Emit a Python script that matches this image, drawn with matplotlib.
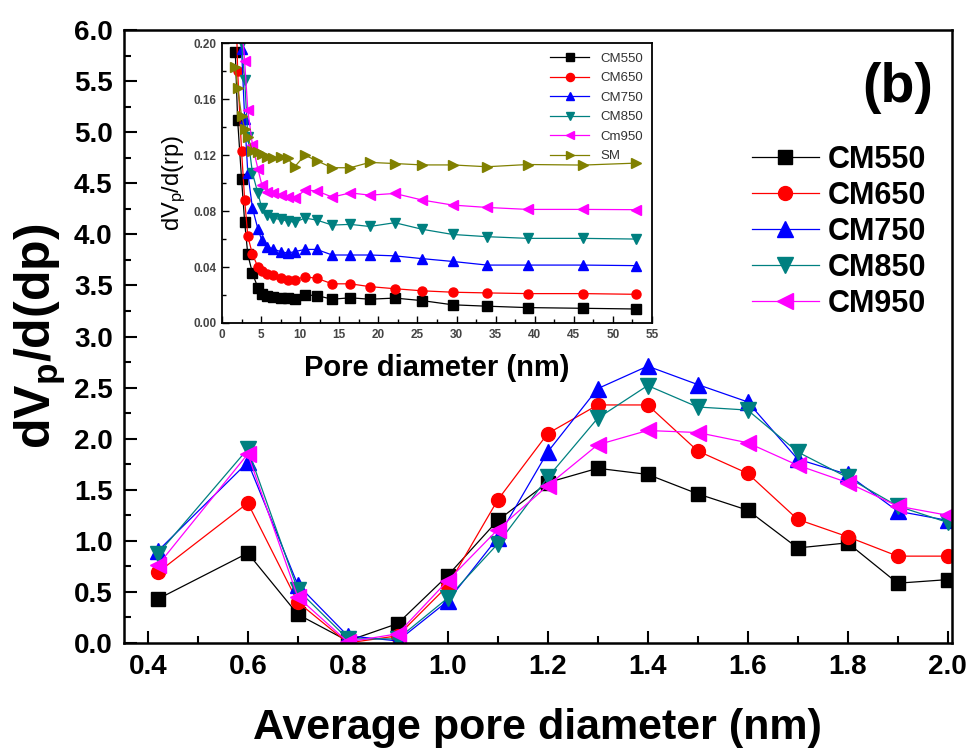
import matplotlib
matplotlib.use("Agg")
import matplotlib.pyplot as plt
from matplotlib.ticker import MultipleLocator, FormatStrFormatter

plt.rcParams["font.family"] = ["Liberation Sans", "DejaVu Sans"]
plt.rcParams["mathtext.default"] = "regular"

# ── main panel: micropore distribution ──────────────────────────────
pore_d = [0.42, 0.6, 0.7, 0.8, 0.9, 1.0, 1.1, 1.2, 1.3, 1.4, 1.5, 1.6, 1.7, 1.8, 1.9, 2.0]

cm550 = [0.43, 0.88, 0.28, 0.02, 0.19, 0.66, 1.20, 1.57, 1.71, 1.65, 1.46, 1.30, 0.93, 0.98, 0.585, 0.62]
cm650 = [0.69, 1.37, 0.40, 0.00, 0.07, 0.56, 1.40, 2.05, 2.33, 2.33, 1.88, 1.66, 1.21, 1.04, 0.85, 0.85]
cm750 = [0.90, 1.77, 0.57, 0.07, 0.02, 0.41, 1.03, 1.87, 2.49, 2.71, 2.53, 2.36, 1.80, 1.65, 1.29, 1.20]
cm850 = [0.87, 1.90, 0.52, 0.04, 0.04, 0.44, 0.97, 1.62, 2.20, 2.52, 2.31, 2.28, 1.87, 1.62, 1.34, 1.18]
cm950 = [0.76, 1.85, 0.45, 0.01, 0.09, 0.61, 1.11, 1.54, 1.94, 2.08, 2.06, 1.96, 1.74, 1.57, 1.34, 1.25]

main_labels = ["CM550", "CM650", "CM750", "CM850", "CM950"]

# ── inset: mesopore distribution ────────────────────────────────────
inset_d = [1.7, 2.0, 2.5, 2.9, 3.3, 3.9, 4.6, 5.1, 5.8, 6.5, 7.5, 8.4, 9.3,
           10.6, 12.1, 14.1, 16.4, 18.9, 22.1, 25.6, 29.5, 33.9, 39.1, 46.2, 53.0]

in_cm550 = [0.194, 0.145, 0.103, 0.072, 0.049, 0.0355, 0.025, 0.021, 0.019, 0.0188, 0.018, 0.0176, 0.0173,
            0.020, 0.0196, 0.017, 0.018, 0.017, 0.0178, 0.016, 0.013, 0.012, 0.011, 0.0105, 0.010]
in_cm650 = [0.25, 0.18, 0.123, 0.088, 0.062, 0.049, 0.040, 0.037, 0.035, 0.034, 0.032, 0.031, 0.031,
            0.033, 0.032, 0.028, 0.028, 0.026, 0.0245, 0.023, 0.022, 0.0215, 0.021, 0.021, 0.0205]
in_cm750 = [0.34, 0.27, 0.196, 0.146, 0.107, 0.082, 0.067, 0.059, 0.0545, 0.053, 0.051, 0.050, 0.051,
            0.0526, 0.0526, 0.0486, 0.0486, 0.0486, 0.048, 0.046, 0.044, 0.0414, 0.0414, 0.0414, 0.041]
in_cm850 = [0.30, 0.24, 0.20, 0.174, 0.133, 0.107, 0.0926, 0.082, 0.077, 0.075, 0.074, 0.073, 0.072,
            0.075, 0.0736, 0.070, 0.0705, 0.069, 0.0717, 0.067, 0.0633, 0.0617, 0.0605, 0.0605, 0.060]
in_cm950 = [0.33, 0.26, 0.215, 0.187, 0.152, 0.127, 0.110, 0.0986, 0.0935, 0.0926, 0.0914, 0.090, 0.089,
            0.095, 0.0945, 0.090, 0.093, 0.0914, 0.0926, 0.0879, 0.0843, 0.0826, 0.0812, 0.0812, 0.081]
in_sm = [0.183, 0.168, 0.148, 0.139, 0.133, 0.123, 0.122, 0.121, 0.119, 0.118, 0.119, 0.1176, 0.1117,
         0.120, 0.116, 0.111, 0.111, 0.1148, 0.114, 0.113, 0.113, 0.1117, 0.1133, 0.1129, 0.1143]

inset_labels = ["CM550", "CM650", "CM750", "CM850", "Cm950", "SM"]

colors = ["#000000", "#ff0000", "#0000ff", "#008080", "#ff00ff", "#808000"]
markers = ["s", "o", "^", "v", "<", ">"]
msizes = [10, 10, 11, 11, 11, 11]

fig = plt.figure(figsize=(9.75, 7.52), dpi=100)
ax = fig.add_axes([0.127, 0.145, 0.849, 0.815])

main_series = [cm550, cm650, cm750, cm850, cm950]
for i, ys in enumerate(main_series):
    ax.plot(pore_d, ys, color=colors[i], marker=markers[i], markersize=msizes[i],
            lw=0.9, label=main_labels[i])

ax.set_xlim(0.352, 2.008)
ax.set_ylim(0, 6.0)
ax.xaxis.set_major_locator(MultipleLocator(0.2))
ax.xaxis.set_minor_locator(MultipleLocator(0.1))
ax.yaxis.set_major_locator(MultipleLocator(0.5))
ax.yaxis.set_minor_locator(MultipleLocator(0.25))
ax.xaxis.set_major_formatter(FormatStrFormatter("%.1f"))
ax.yaxis.set_major_formatter(FormatStrFormatter("%.1f"))
ax.tick_params(which="both", direction="in", width=1.5, labelsize=20, pad=8)
ax.tick_params(which="major", length=9)
ax.tick_params(which="minor", length=5)
for lab in ax.get_xticklabels() + ax.get_yticklabels():
    lab.set_fontweight("bold")
for sp in ax.spines.values():
    sp.set_linewidth(1.8)

ax.set_xlabel("Average pore diameter (nm)", fontsize=31, fontweight="bold", labelpad=20)
ax.set_ylabel("dV$_{p}$/d(dp)", fontsize=36, fontweight="bold", labelpad=4)

ax.text(0.935, 0.905, "(b)", transform=ax.transAxes, fontsize=40, fontweight="bold",
        ha="center", va="center")

leg = ax.legend(loc="upper left", bbox_to_anchor=(0.74, 0.838), frameon=False,
                prop={"size": 22, "weight": "bold"}, handlelength=2.2,
                handletextpad=0.3, labelspacing=0.2, borderpad=0)

# ── inset axes ──────────────────────────────────────────────────────
axin = fig.add_axes([0.2277, 0.5705, 0.441, 0.372])
inset_series = [in_cm550, in_cm650, in_cm750, in_cm850, in_cm950, in_sm]
for i, ys in enumerate(inset_series):
    axin.plot(inset_d, ys, color=colors[i], marker=markers[i], markersize=6.5,
              lw=0.9, label=inset_labels[i])

axin.set_xlim(0, 55)
axin.set_ylim(0, 0.20)
axin.xaxis.set_major_locator(MultipleLocator(5))
axin.xaxis.set_minor_locator(MultipleLocator(2.5))
axin.yaxis.set_major_locator(MultipleLocator(0.04))
axin.yaxis.set_minor_locator(MultipleLocator(0.02))
axin.yaxis.set_major_formatter(FormatStrFormatter("%.2f"))
axin.tick_params(which="both", direction="in", width=1.0, labelsize=8.5,
                 labelcolor="#444444", pad=4)
axin.tick_params(which="major", length=5)
axin.tick_params(which="minor", length=3)
for lab in axin.get_xticklabels() + axin.get_yticklabels():
    lab.set_fontweight("bold")
for sp in axin.spines.values():
    sp.set_linewidth(1.3)

axin.set_xlabel("Pore diameter (nm)", fontsize=21, fontweight="bold", labelpad=10)
axin.set_ylabel("dV$_{p}$/d(rp)", fontsize=17, labelpad=4)

axin.legend(loc="upper right", frameon=False, fontsize=9.5, handlelength=3,
            markerscale=0.9, labelspacing=0.55, borderaxespad=0.3, labelcolor="#333333")

plt.savefig("out.png", dpi=100)
